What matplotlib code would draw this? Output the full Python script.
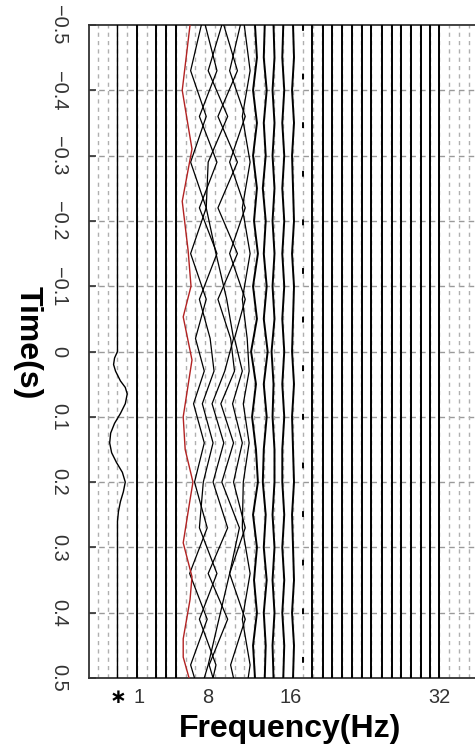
import matplotlib
matplotlib.use("Agg")
import matplotlib.pyplot as plt

plt.rcParams['font.family'] = ['Liberation Sans', 'DejaVu Sans']

# ---------------------------------------------------------------------------
# data
# ---------------------------------------------------------------------------
time_s = [-0.5, -0.45, -0.4, -0.35, -0.3, -0.25, -0.2, -0.15, -0.1, -0.05, 0.0,
          0.05, 0.1, 0.15, 0.2, 0.25, 0.3, 0.35, 0.4, 0.45, 0.5]

# trace marked with "*"
star_freq = -1
star_t  = [-0.5, 0.0, 0.01, 0.02, 0.03, 0.045, 0.055, 0.065, 0.08, 0.095, 0.11,
           0.125, 0.14, 0.155, 0.17, 0.185, 0.2, 0.215, 0.23, 0.245, 0.26, 0.5]
star_dx = [0.0, 0.0, -0.3, -0.4, -0.2, 0.3, 0.8, 1.0, 0.8, 0.3, -0.3,
           -0.7, -0.8, -0.6, -0.1, 0.5, 0.8, 0.6, 0.3, 0.1, 0.0, 0.0]

# red trace
red_freq = 6.44
red_t  = [-0.5, -0.4, -0.31, -0.23, -0.155, -0.1, -0.053, 0.013, 0.1, 0.15,
          0.2, 0.227, 0.293, 0.345, 0.38, 0.44, 0.468, 0.5]
red_dx = [0.0, -0.8, 0.2, -0.8, -0.2, 0.1, -0.7, 0.2, -0.7, -0.5,
          0.3, 0.0, -0.7, 0.2, 0.0, -0.7, -0.7, -0.1]

# strongly wiggling traces
cluster_t = [-0.5, -0.43, -0.36, -0.29, -0.22, -0.15, -0.08, -0.02, 0.03, 0.08,
             0.14, 0.2, 0.27, 0.34, 0.41, 0.48, 0.5]
cluster_freq = [7.3, 8.3, 9.3, 10.3, 11.3, 12.2]
cluster_dx_1 = [0.3, -0.8, 0.8, -0.8, 0.8, -0.8, 0.8, -0.3, 0.6, -0.5,
                0.6, -0.4, 0.9, -0.9, 0.9, -0.8, -0.4]
cluster_dx_2 = [-0.3, 0.9, -0.9, 0.9, -0.9, 0.9, -0.9, 0.2, 0.6, -0.6,
                0.5, -0.5, -0.9, 0.9, -0.9, 0.8, 0.5]
cluster_dx_3 = [0.4, -1.0, 1.0, -1.0, -1.2, -0.2, 0.9, 1.6, 0.7, -0.6,
                0.6, -0.5, 1.0, -1.0, 1.0, -0.9, -0.5]
cluster_dx_4 = [-0.4, 1.0, -1.0, 1.0, -1.0, 1.0, -1.0, 0.3, 0.7, -0.7,
                0.6, -0.6, 1.2, 0.2, -0.9, -2.0, -2.4]
cluster_dx_5 = [0.3, -0.8, 0.8, -0.8, 0.8, -0.8, 0.8, -0.3, 0.5, -0.5,
                0.5, -0.4, 0.8, -0.8, 0.8, -0.7, -0.4]
cluster_dx_6 = [-0.2, 0.4, -0.4, 0.4, -0.4, 0.4, -0.4, 0.1, 0.3, -0.3,
                0.3, -0.3, -0.4, 0.4, -0.4, 0.4, 0.2]

# mildly wiggling traces
mild_freq = [13.1, 14.1, 15.0, 16.0, 17.0]
mild_dx_13 = [0.0, 0.2, -0.2, 0.2, -0.2, 0.2, -0.1, 0.3, -0.2, 0.2, -0.4,
              0.1, -0.3, 0.1, 0.3, -0.2, 0.2, -0.1, 0.2, -0.2, 0.0]
mild_dx_14 = [0.0, -0.1, 0.2, -0.1, 0.1, -0.2, 0.1, -0.1, 0.2, -0.1, 0.3,
              -0.1, 0.2, -0.1, -0.2, 0.1, -0.1, 0.2, -0.1, 0.1, 0.0]
mild_dx_15 = [0.0, 0.1, -0.1, 0.1, -0.1, 0.1, -0.1, 0.1, -0.1, 0.1, -0.2,
              0.0, -0.1, 0.1, 0.1, -0.1, 0.1, -0.1, 0.1, -0.1, 0.0]
mild_dx_16 = [0.0, -0.1, 0.1, -0.1, 0.1, -0.1, 0.1, -0.1, 0.1, -0.1, 0.1,
              -0.1, 0.1, -0.1, -0.1, 0.1, -0.1, 0.1, -0.1, 0.1, 0.0]
mild_dx_17 = [0.0, 0.1, -0.1, 0.1, -0.1, 0.0, 0.1, -0.1, 0.1, 0.0, -0.1,
              0.1, -0.1, 0.0, 0.1, -0.1, 0.0, 0.1, -0.1, 0.1, 0.0]

# dashed trace and straight traces
dashed_freq = 18
straight_freq = [1, 3, 4, 5, 18.9, 20.1, 21, 22, 23, 24.1, 25, 26.1, 27.2,
                 28.1, 29.1, 30.1, 31, 32]

time_grid = [-0.4, -0.3, -0.2, -0.1, 0.0, 0.1, 0.2, 0.3, 0.4]
freq_grid = list(range(-3, 38))

time_ticks = [-0.5, -0.4, -0.3, -0.2, -0.1, 0.0, 0.1, 0.2, 0.3, 0.4, 0.5]
time_labels = ['\u22120.5', '\u22120.4', '\u22120.3', '\u22120.2', '\u22120.1', '0',
               '0.1', '0.2', '0.3', '0.4', '0.5']
freq_ticks = [-1, 1.2, 8.2, 16.8, 32]
freq_labels = ['\u2217', '1', '8', '16', '32']

# ---------------------------------------------------------------------------
# figure
# ---------------------------------------------------------------------------
W, H = 475, 749
fig = plt.figure(figsize=(W / 100, H / 100), dpi=100)
ax = fig.add_axes([89 / W, (H - 678) / H, 402 / W, 653 / H])

ax.set_xlim(-3.92, 37.3)
ax.set_ylim(0.5, -0.5)

for t in time_grid:
    ax.axhline(t, color='#9a9a9a', lw=1.0, ls=(0, (4, 3)), zorder=1)
for f in freq_grid:
    ax.axvline(f, color='#b0b0b0', lw=1.0, ls=(0, (3, 3)), zorder=1)

for f in straight_freq:
    ax.plot([f, f], [-0.5, 0.5], color='black', lw=1.4, zorder=3)

ax.plot([dashed_freq, dashed_freq], [-0.5, 0.5], color='black', lw=1.4,
        ls=(0, (3, 22)), zorder=3)

ax.plot([star_freq + d for d in star_dx], star_t, color='black', lw=1.0, zorder=3)
ax.plot([red_freq + d for d in red_dx], red_t, color='#b22222', lw=1.0, zorder=4)

cluster = [cluster_dx_1, cluster_dx_2, cluster_dx_3, cluster_dx_4, cluster_dx_5, cluster_dx_6]
for f, dx in zip(cluster_freq, cluster):
    ax.plot([f + d for d in dx], cluster_t, color='black', lw=0.9, zorder=3)

mild = [mild_dx_13, mild_dx_14, mild_dx_15, mild_dx_16, mild_dx_17]
for f, dx in zip(mild_freq, mild):
    ax.plot([f + d for d in dx], time_s, color='black', lw=1.4, zorder=3)

ax.spines['right'].set_visible(False)
for s in ['left', 'top', 'bottom']:
    ax.spines[s].set_color('#333333')
    ax.spines[s].set_linewidth(1.3)

ax.set_yticks(time_ticks)
ax.set_yticklabels(time_labels, rotation=-90, ha='center', va='center',
                   fontsize=14.4, color='#333333')
ax.tick_params(axis='y', direction='in', length=5, width=1.2, color='#333333', pad=22)

ax.set_xticks(freq_ticks)
ax.set_xticklabels(freq_labels, fontsize=14.4, color='#333333')
ax.get_xticklabels()[0].set_fontweight('bold')
ax.get_xticklabels()[0].set_color('black')
ax.tick_params(axis='x', length=0, pad=7)

ax.set_xlabel('Frequency(Hz)', fontsize=23, fontweight='bold')
ax.xaxis.set_label_coords(0.5, -0.055)
ax.set_ylabel('Time(s)', fontsize=23, fontweight='bold', rotation=-90,
              va='center', ha='center')
ax.yaxis.set_label_coords(-0.152, 0.513)

fig.savefig('out.png', dpi=100)
